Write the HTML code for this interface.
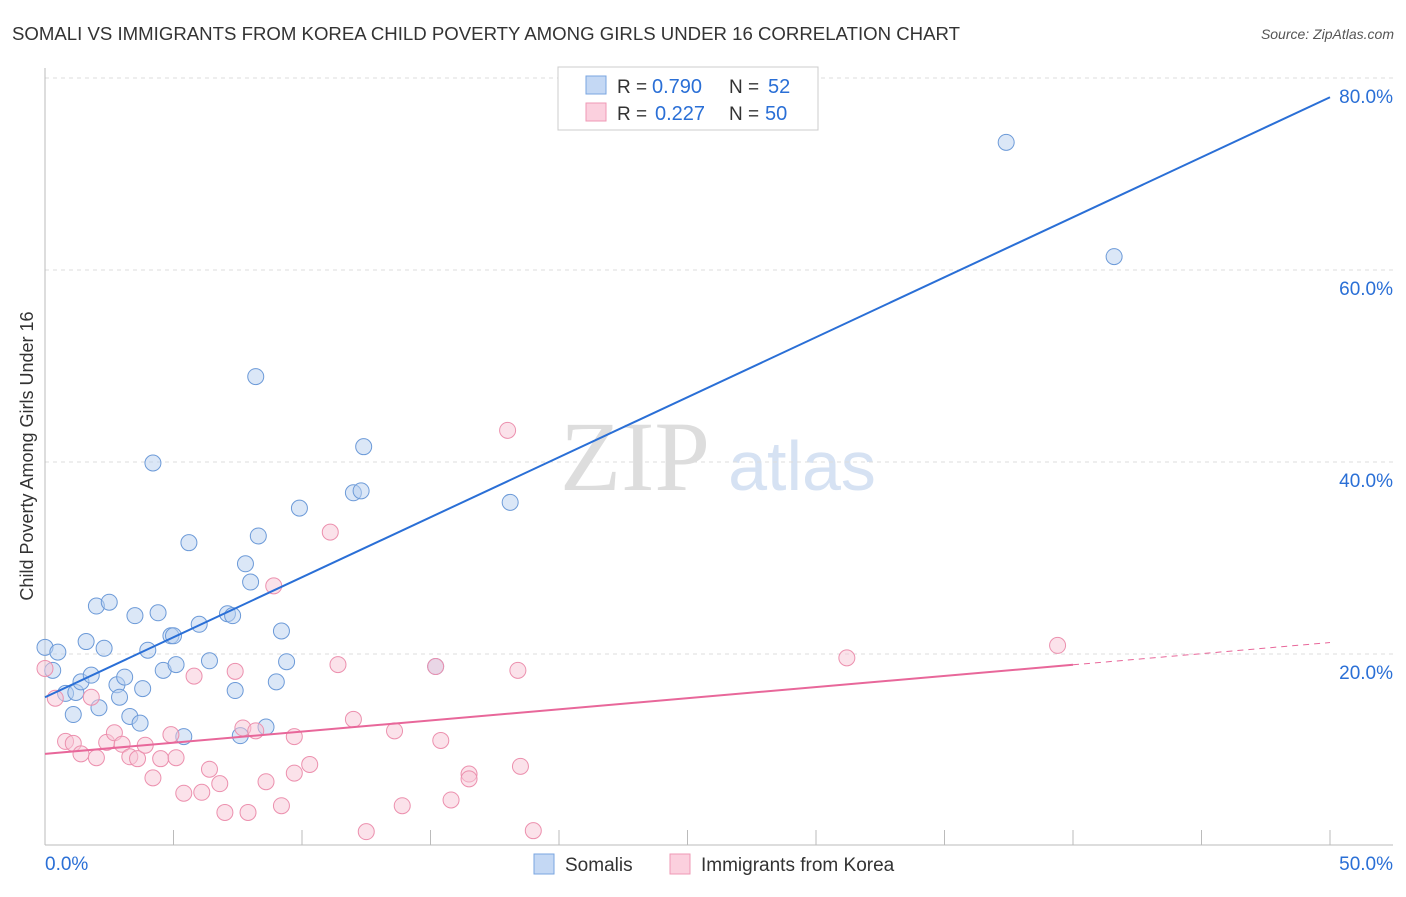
<!DOCTYPE html>
<html><head><meta charset="utf-8"><style>
body{margin:0;background:#fff;font-family:"Liberation Sans",sans-serif}
</style></head><body>
<svg width="1406" height="892" viewBox="0 0 1406 892" font-family="Liberation Sans, sans-serif">
<text x="12" y="40" font-size="18" fill="#333" textLength="948" lengthAdjust="spacingAndGlyphs">SOMALI VS IMMIGRANTS FROM KOREA CHILD POVERTY AMONG GIRLS UNDER 16 CORRELATION CHART</text>
<text x="1394" y="39" font-size="14" fill="#555" font-style="italic" text-anchor="end">Source: ZipAtlas.com</text>
<text x="635" y="490" font-size="100" fill="#ddd" style="font-family:'Liberation Serif',serif" text-anchor="middle">ZIP</text>
<text x="802" y="490" font-size="70" fill="#d6e2f3" text-anchor="middle">atlas</text>
<g id="grid"></g><g id="axes"></g><g id="marks"></g>
<text x="33" y="456" font-size="18" fill="#333" transform="rotate(-90 33 456)" text-anchor="middle">Child Poverty Among Girls Under 16</text>
<g>
<rect x="558" y="67" width="260" height="63" fill="#fff" stroke="#ccc"/>
<rect x="586" y="76" width="20" height="18" fill="#c4d8f4" stroke="#7aa6e0"/>
<rect x="586" y="103" width="20" height="18" fill="#fbd0de" stroke="#ef99b5"/>
<text x="617" y="93" font-size="19" fill="#333">R =</text>
<text x="652" y="93" font-size="20" fill="#2a6fd6">0.790</text>
<text x="729" y="93" font-size="19" fill="#333">N =</text>
<text x="768" y="93" font-size="20" fill="#2a6fd6">52</text>
<text x="617" y="120" font-size="19" fill="#333">R =</text>
<text x="655" y="120" font-size="20" fill="#2a6fd6">0.227</text>
<text x="729" y="120" font-size="19" fill="#333">N =</text>
<text x="765" y="120" font-size="20" fill="#2a6fd6">50</text>
</g>
<g>
<rect x="534" y="854" width="20" height="20" fill="#c4d8f4" stroke="#7aa6e0"/>
<text x="565" y="871" font-size="19" fill="#333">Somalis</text>
<rect x="670" y="854" width="20" height="20" fill="#fbd0de" stroke="#ef99b5"/>
<text x="701" y="871" font-size="19" fill="#333">Immigrants from Korea</text>
</g>
</svg>
<script>
const yTicks=[20,40,60,80];
const xTickLabels=["0.0%","50.0%"];
const somaliX=[0.0,0.5,0.3,0.8,1.1,1.2,1.4,1.6,1.8,2.0,2.1,2.3,2.5,2.8,2.9,3.1,3.3,3.5,3.7,3.8,4.0,4.2,4.4,4.6,4.9,5.0,5.1,5.4,5.6,6.0,6.4,7.1,7.3,7.4,7.6,7.8,8.0,8.2,8.3,8.6,9.0,9.2,9.4,9.9,12.0,12.3,12.4,15.2,18.1,37.4,41.6];
const somaliY=[20.8,20.3,18.4,16.0,13.8,16.1,17.2,21.4,17.9,25.1,14.5,20.7,25.5,16.9,15.6,17.7,13.6,24.1,12.9,16.5,20.5,40.0,24.4,18.4,22.0,22.0,19.0,11.5,31.7,23.2,19.4,24.3,24.1,16.3,11.6,29.5,27.6,49.0,32.4,12.5,17.2,22.5,19.3,35.3,36.9,37.1,41.7,18.8,35.9,73.4,61.5];
const koreaX=[0.0,0.4,0.8,1.1,1.4,1.8,2.0,2.4,2.7,3.0,3.3,3.6,3.9,4.2,4.5,4.9,5.1,5.4,5.8,6.1,6.4,6.8,7.0,7.4,7.7,7.9,8.2,8.6,8.9,9.2,9.7,9.7,10.3,11.1,11.4,12.0,12.5,13.6,13.9,15.2,15.4,15.8,16.5,16.5,18.0,18.4,18.5,19.0,31.2,39.4];
const koreaY=[18.6,15.5,11.0,10.8,9.7,15.6,9.3,10.9,11.9,10.7,9.4,9.2,10.6,7.2,9.2,11.7,9.3,5.6,17.8,5.7,8.1,6.6,3.6,18.3,12.4,3.6,12.1,6.8,27.2,4.3,11.5,7.7,8.6,32.8,19.0,13.3,1.6,12.1,4.3,18.8,11.1,4.9,7.6,7.1,43.4,18.4,8.4,1.7,19.7,21.0];
const somaliTrend=[15.6,78.1];
const koreaTrend=[9.7,21.3];
const koreaSolidEnd=40;
const NS="http://www.w3.org/2000/svg";
const sx=v=>45+v/50*1285, sy=v=>847-v/20*192;
function mk(t,a,p){const e=document.createElementNS(NS,t);for(const k in a)e.setAttribute(k,a[k]);p.appendChild(e);return e;}
const grid=document.getElementById('grid'),axes=document.getElementById('axes'),marks=document.getElementById('marks');
yTicks.forEach(t=>{
 const l=mk('line',{x1:45,x2:1393,y1:sy(t)-1,y2:sy(t)-1,stroke:'#ddd','stroke-dasharray':'4,4'},grid);
 
 
 const tx=mk('text',{x:1393,y:sy(t)+24,'font-size':19,fill:'#2a6fd6','text-anchor':'end'},grid);
 tx.textContent=t.toFixed(1)+'%';
 
 
});
const ya=mk('line',{x1:45,x2:45,y1:68,y2:845,stroke:'#bbb'},axes);


const xa=mk('line',{x1:45,x2:1393,y1:845,y2:845,stroke:'#bbb'},axes);


for(let i=0;i<=10;i++){const t=mk('line',{x1:sx(i*5),x2:sx(i*5),y1:830,y2:845,stroke:'#bbb'},axes);
 
 }
[[0,'start',45],[50,'end',1393]].forEach((d,i)=>{const t=mk('text',{x:d[2],y:870,'font-size':19,fill:'#2a6fd6','text-anchor':d[1]},axes);t.textContent=xTickLabels[i];
 
 });
function dots(X,Y,fill,stroke,name){X.forEach((x,i)=>{const c=mk('circle',{cx:sx(x),cy:sy(Y[i]),r:8,fill:fill,'fill-opacity':0.5,stroke:stroke,'stroke-width':1},marks);
 
 });}
dots(somaliX,somaliY,'#b8d0f0','#6c9ad8','somali-point');
dots(koreaX,koreaY,'#f8c6d6','#ec90ae','korea-point');
const bl=mk('line',{x1:sx(0),y1:sy(somaliTrend[0]),x2:sx(50),y2:sy(somaliTrend[1]),stroke:'#2a6fd6','stroke-width':2},marks);


const kAt=x=>koreaTrend[0]+(koreaTrend[1]-koreaTrend[0])*x/50;
const pl=mk('line',{x1:sx(0),y1:sy(kAt(0)),x2:sx(koreaSolidEnd),y2:sy(kAt(koreaSolidEnd)),stroke:'#e8679a','stroke-width':2},marks);


const pd=mk('line',{x1:sx(koreaSolidEnd),y1:sy(kAt(koreaSolidEnd)),x2:sx(50),y2:sy(kAt(50)),stroke:'#e8679a','stroke-width':1,'stroke-dasharray':'6,5'},marks);


</script>
</body></html>
